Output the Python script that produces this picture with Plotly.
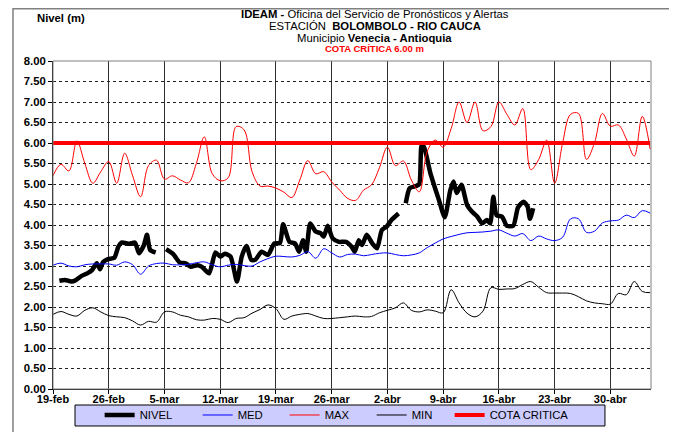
"""Nivel del río Cauca en Bolombolo: nivel observado vs. MED/MAX/MIN históricos."""

import pandas as pd
import plotly.graph_objects as go

FONT = "Liberation Sans, Arial, sans-serif"
INICIO = pd.Timestamp("2021-02-19")

# Series diarias (19-feb .. 5-may)
fechas = pd.date_range(INICIO, periods=76, freq="D")

med = [
    3.02, 3.07, 3.00, 2.98, 3.03, 3.05, 3.05, 3.05, 3.02, 3.10,
    3.03, 2.80, 3.00, 3.06, 3.07, 3.03, 3.03, 3.04, 3.08, 3.10,
    3.03, 2.98, 3.02, 3.04, 3.01, 3.00, 3.10, 3.18, 3.24, 3.23,
    3.22, 3.26, 3.35, 3.19, 3.42, 3.32, 3.22, 3.28, 3.29, 3.25,
    3.28, 3.31, 3.32, 3.28, 3.25, 3.27, 3.32, 3.45, 3.56, 3.66,
    3.72, 3.77, 3.81, 3.82, 3.83, 3.85, 3.88, 3.80, 3.73, 3.79,
    3.62, 3.73, 3.66, 3.62, 3.70, 4.15, 4.15, 3.82, 3.85, 4.05,
    4.10, 4.12, 4.24, 4.18, 4.35, 4.29,
]

maximo = [
    5.20, 5.48, 5.32, 6.05, 5.50, 5.02, 5.30, 5.55, 5.02, 5.75,
    5.20, 4.69, 5.45, 5.58, 5.12, 5.20, 5.10, 5.03, 5.50, 6.15,
    5.25, 5.08, 5.15, 6.40, 6.32, 5.30, 4.95, 4.95, 4.90, 4.80,
    4.67, 5.10, 5.57, 5.25, 5.30, 5.05, 4.85, 4.65, 4.60, 4.85,
    4.98, 5.40, 5.90, 5.45, 5.56, 5.10, 4.81, 5.80, 6.07, 5.90,
    6.35, 7.00, 6.50, 7.00, 6.30, 6.40, 7.00, 6.70, 6.44, 6.84,
    5.35, 5.60, 6.07, 5.02, 6.00, 6.70, 6.72, 5.60, 6.00, 6.72,
    6.41, 6.44, 6.10, 5.68, 6.65, 5.85,
]

minimo = [
    1.82, 1.89, 1.82, 1.78, 1.92, 1.98, 1.88, 1.79, 1.76, 1.74,
    1.66, 1.56, 1.65, 1.63, 1.88, 1.88, 1.80, 1.76, 1.69, 1.68,
    1.72, 1.70, 1.62, 1.72, 1.74, 1.85, 1.94, 2.05, 1.96, 1.70,
    1.78, 1.82, 1.84, 1.78, 1.72, 1.72, 1.74, 1.76, 1.78, 1.76,
    1.77, 1.86, 1.92, 1.98, 2.10, 1.92, 1.88, 1.93, 1.90, 1.86,
    2.42, 2.10, 1.85, 1.76, 1.90, 2.47, 2.43, 2.44, 2.45, 2.55,
    2.62, 2.48, 2.35, 2.34, 2.34, 2.33, 2.25, 2.15, 2.10, 2.08,
    2.07, 2.33, 2.30, 2.62, 2.38, 2.35,
]

cota_critica = [6.00] * len(fechas)

# Nivel observado (lecturas irregulares, en días desde 19-feb; None = sin dato)
nivel_dia = [
    0.8, 1.5, 2.3, 2.9, 3.6, 4.3, 4.9, 5.5, 5.9, 6.3, 6.9, 7.7, 8.2, 8.6,
    9.6, 10.3, 10.8, 11.4, 11.8, 12.2, 12.9,
    13.5,
    14.2, 15.1, 15.9, 16.7, 17.3, 18.1, 18.7, 19.6, 20.4, 21.0, 21.6, 22.3,
    23.1, 23.7, 24.3, 24.9, 25.4, 26.2, 27.0, 27.8, 28.5, 28.9, 29.7, 30.4,
    30.9, 31.4, 31.8, 32.3, 33.0, 33.6, 34.0, 34.5, 35.1, 35.9, 36.8, 37.5,
    37.9, 38.4, 38.8, 39.4, 40.1, 40.7, 41.3, 41.9, 42.5, 43.4,
    43.8,
    44.3, 44.8, 45.6, 46.0, 46.3, 46.6, 47.4, 48.4, 49.2, 49.9, 50.3, 50.7,
    51.3, 52.0, 52.6, 53.3, 53.9, 54.5, 54.9, 55.3, 55.7, 56.4, 57.0, 57.8,
    58.4, 59.1, 59.6, 59.9, 60.3,
]
nivel = [
    2.64, 2.66, 2.62, 2.66, 2.76, 2.82, 2.90, 3.07, 2.92, 3.10, 3.17, 3.20, 3.47, 3.57,
    3.54, 3.57, 3.31, 3.50, 3.76, 3.39, 3.33,
    None,
    3.41, 3.29, 3.09, 3.06, 2.98, 3.02, 2.98, 2.82, 3.33, 3.23, 3.30, 3.23,
    2.62, 3.23, 3.49, 3.15, 3.15, 3.35, 3.27, 3.55, 3.56, 4.02, 3.59, 3.55,
    3.35, 3.63, 3.35, 4.04, 3.84, 3.80, 3.72, 3.98, 3.68, 3.59, 3.59, 3.47,
    3.35, 3.63, 3.51, 3.76, 3.55, 3.43, 3.88, 3.96, 4.12, 4.28,
    None,
    4.53, 4.90, 4.95, 5.00, 5.95, 5.90, 5.26, 4.65, 4.19, 4.85, 5.06, 4.78,
    4.98, 4.49, 4.33, 4.20, 4.04, 4.12, 4.04, 4.69, 4.24, 4.20, 3.98, 3.98,
    4.43, 4.57, 4.45, 4.15, 4.41,
]

tick_fechas = fechas[::7]
tick_textos = ["19-feb", "26-feb", "5-mar", "12-mar", "19-mar", "26-mar",
               "2-abr", "9-abr", "16-abr", "23-abr", "30-abr"]

nivel_fechas = INICIO + pd.to_timedelta(nivel_dia, unit="D")

fig = go.Figure()
fig.add_trace(go.Scatter(
    x=nivel_fechas, y=nivel, name="NIVEL", mode="lines", legendwidth=53,
    line=dict(color="black", width=4.5, shape="spline", smoothing=0.6),
    connectgaps=False,
))
fig.add_trace(go.Scatter(
    x=fechas, y=med, name="MED", mode="lines", legendwidth=42,
    line=dict(color="#0000FF", width=1, shape="spline"),
))
fig.add_trace(go.Scatter(
    x=fechas, y=maximo, name="MAX", mode="lines", legendwidth=42,
    line=dict(color="#FF0000", width=1, shape="spline"),
))
fig.add_trace(go.Scatter(
    x=fechas, y=minimo, name="MIN", mode="lines", legendwidth=33,
    line=dict(color="#000000", width=1, shape="spline"),
))
fig.add_trace(go.Scatter(
    x=fechas, y=cota_critica, name="COTA CRITICA", mode="lines", legendwidth=88,
    line=dict(color="#FF0000", width=4),
))

# marco exterior, caja de leyenda y borde del área de trazado
fig.add_shape(type="rect", xref="paper", yref="paper",
              x0=-0.0669, x1=1.0368, y0=-0.2, y1=1.159,
              line=dict(color="#808080", width=1.5), layer="above")
fig.add_shape(type="rect", xref="paper", yref="paper",
              x0=0.0368, x1=0.923, y0=-0.1128, y1=-0.0488,
              line=dict(color="black", width=1), fillcolor="#CCCCFF", layer="above")
fig.add_shape(type="rect", xref="paper", yref="paper",
              x0=0, x1=1, y0=0, y1=1,
              line=dict(color="#808080", width=1), layer="above")

titulos = [
    ("<b>IDEAM - </b>Oficina del Servicio de Pronósticos y Alertas", 1.1435, 11.3, "black"),
    ("ESTACIÓN  <b>BOLOMBOLO - RIO CAUCA</b>", 1.1082, 11.3, "black"),
    ("Municipio <b>Venecia - Antioquia</b>", 1.0716, 11.3, "black"),
    ("<b>COTA CRÍTICA 6.00 m</b>", 1.0381, 9.5, "#FF0000"),
]
for texto, yp, size, color in titulos:
    fig.add_annotation(text=texto, xref="paper", yref="paper", x=0.538, y=yp,
                       xanchor="center", yanchor="middle", showarrow=False,
                       font=dict(family=FONT, size=size, color=color))
fig.add_annotation(text="<b>Nivel (m)</b>", xref="paper", yref="paper", x=0.013, y=1.131,
                   xanchor="center", yanchor="middle", showarrow=False,
                   font=dict(family=FONT, size=11.3, color="black"))

fig.update_xaxes(
    range=[INICIO, INICIO + pd.Timedelta(days=75.1)],
    tickvals=tick_fechas, ticktext=tick_textos,
    tickfont=dict(family=FONT, size=11, color="black", weight="bold"),
    showgrid=True, gridcolor="#303030", gridwidth=1,
    showline=True, linecolor="black", linewidth=1,
    ticks="outside", ticklen=4, tickcolor="black", ticklabelstandoff=-4,
    zeroline=False, automargin=False,
)
fig.update_yaxes(
    range=[0, 8], dtick=0.5, tick0=0, tickformat=".2f",
    tickfont=dict(family=FONT, size=11.3, color="black", weight="bold"),
    showgrid=True, gridcolor="#202020", gridwidth=1, griddash="dot",
    showline=True, linecolor="black", linewidth=1,
    ticks="outside", ticklen=4, tickcolor="black",
    zeroline=False, automargin=False,
)
# la página tiene 8 px de margen en el body: la figura se corre 8 px
fig.update_layout(
    width=669, height=424,
    margin=dict(l=45, r=26, t=53, b=43),
    paper_bgcolor="white", plot_bgcolor="white",
    font=dict(family=FONT, size=11.3, color="black"),
    showlegend=True,
    legend=dict(
        orientation="h", xref="paper", x=0.078, xanchor="left",
        yref="container", y=0.0401, yanchor="middle",
        bgcolor="rgba(0,0,0,0)", font=dict(family=FONT, size=11.3, color="black"),
        itemwidth=30,
    ),
)

fig.write_html("out.html")
